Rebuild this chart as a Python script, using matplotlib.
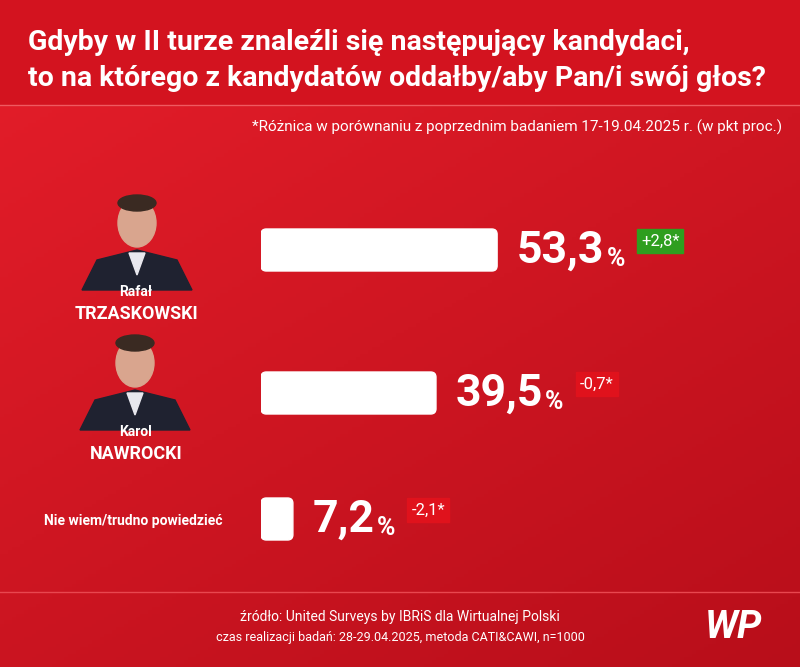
import numpy as np
import matplotlib
matplotlib.use("Agg")
import matplotlib.pyplot as plt
from matplotlib.patches import FancyBboxPatch, Rectangle, Ellipse, Polygon
from matplotlib.transforms import offset_copy

names_first = ["Rafał", "Karol", ""]
names_last = ["TRZASKOWSKI", "NAWROCKI", "Nie wiem/trudno powiedzieć"]
values = [53.3, 39.5, 7.2]
changes = ["+2,8*", "-0,7*", "-2,1*"]
change_pos = [True, False, False]
value_labels = ["53,3", "39,5", "7,2"]

W, H = 800, 667
fig = plt.figure(figsize=(8, 6.67), dpi=100)
bg = fig.add_axes([0, 0, 1, 1])
bg.set_xlim(0, W); bg.set_ylim(H, 0); bg.axis("off")
yy, xx = np.mgrid[0:1:200j, 0:1:200j]
t = 0.6 * yy + 0.4 * xx
c1 = np.array([0xe6, 0x1e, 0x2a]) / 255
c2 = np.array([0xb8, 0x0e, 0x1a]) / 255
img = c1[None, None, :] * (1 - t[..., None]) + c2[None, None, :] * t[..., None]
bg.imshow(img, extent=[0, W, H, 0], aspect="auto", zorder=0)
bg.add_patch(Rectangle((0, 0), W, 105, color="#d3131f", zorder=1))
bg.plot([0, W], [105, 105], color="#ef5a60", lw=1, zorder=2)
bg.plot([0, W], [592, 592], color="#e8474f", lw=1, zorder=2)

bg.text(28, 43, "Gdyby w II turze znaleźli się następujący kandydaci,", color="white",
        fontsize=20.5, fontweight="bold", family="Roboto", va="center")
bg.text(28, 79, "to na którego z kandydatów oddałby/aby Pan/i swój głos?", color="white",
        fontsize=20.5, fontweight="bold", family="Roboto", va="center")
bg.text(782, 127, "*Różnica w porównaniu z poprzednim badaniem 17-19.04.2025 r. (w pkt proc.)",
        color="white", fontsize=11, family="Roboto", ha="right", va="center")

def person(cx, cy):
    bg.add_patch(Polygon([[cx-55, cy+45], [cx-40, cy+15], [cx, cy+5], [cx+40, cy+15], [cx+55, cy+45]],
                         closed=True, color="#1f2230", zorder=3))
    bg.add_patch(Polygon([[cx-8, cy+8], [cx+8, cy+8], [cx, cy+30]], closed=True, color="#e8e8ee", zorder=4))
    bg.add_patch(Ellipse((cx, cy-22), 38, 48, color="#d9a58e", zorder=4))
    bg.add_patch(Ellipse((cx, cy-42), 38, 16, color="#3a2a22", zorder=5))
person(137, 245)
person(135, 385)

bg.text(136, 292, names_first[0], color="white", fontsize=10, fontweight="bold", family="Roboto", ha="center", va="center")
bg.text(136, 314, names_last[0], color="white", fontsize=13, fontweight="bold", family="Roboto", ha="center", va="center")
bg.text(136, 432, names_first[1], color="white", fontsize=10, fontweight="bold", family="Roboto", ha="center", va="center")
bg.text(136, 454, names_last[1], color="white", fontsize=13, fontweight="bold", family="Roboto", ha="center", va="center")
bg.text(133, 521, names_last[2], color="white", fontsize=10, fontweight="bold", family="Roboto", ha="center", va="center")

px_per_unit = 4.43
ax = fig.add_axes([261 / W, 0, 100 * px_per_unit / W, 1])
ax.set_xlim(0, 100); ax.set_ylim(H, 0); ax.axis("off")
ycent = [250, 393, 519]
bh = 42
for v, y in zip(values, ycent):
    ax.add_patch(FancyBboxPatch((0, y - bh / 2), v, bh,
                                boxstyle="round,pad=0,rounding_size=1.2",
                                mutation_aspect=px_per_unit, color="white", zorder=3))

fig.canvas.draw()
r = fig.canvas.get_renderer()
for v, y, lab, ch, pos in zip(values, ycent, value_labels, changes, change_pos):
    t1 = ax.text(v, y + 1, lab, color="white", fontsize=32, fontweight="bold", family="Roboto",
                 va="center", ha="left",
                 transform=offset_copy(ax.transData, fig=fig, x=20, y=0, units="dots"))
    bb = t1.get_window_extent(r)
    xe = bb.x1
    tp = bg.text(xe + 2, y + 16, "%", color="white", fontsize=18, fontweight="bold", family="Roboto",
                 va="baseline", ha="left")
    bbp = tp.get_window_extent(r)
    bx = bbp.x1 + 12
    tc = bg.text(bx + 4, y - 9, ch, color="white", fontsize=12, family="Roboto", va="center", ha="left",
                 zorder=6)
    bbc = tc.get_window_extent(r)
    col = "#2e9e1f" if pos else "#e0121c"
    bg.add_patch(Rectangle((bx, y - 21), bbc.width + 8, 24, color=col, zorder=5))

bg.text(400, 617, "źródło: United Surveys by IBRiS dla Wirtualnej Polski", color="white",
        fontsize=10, family="Roboto", ha="center", va="center")
bg.text(400, 637, "czas realizacji badań: 28-29.04.2025, metoda CATI&CAWI, n=1000", color="white",
        fontsize=9, family="Roboto", ha="center", va="center")
bg.text(733, 627, "WP", color="white", fontsize=28, fontweight="bold", fontstyle="italic",
        family="Roboto", ha="center", va="center")

fig.savefig("out.png", dpi=100)
